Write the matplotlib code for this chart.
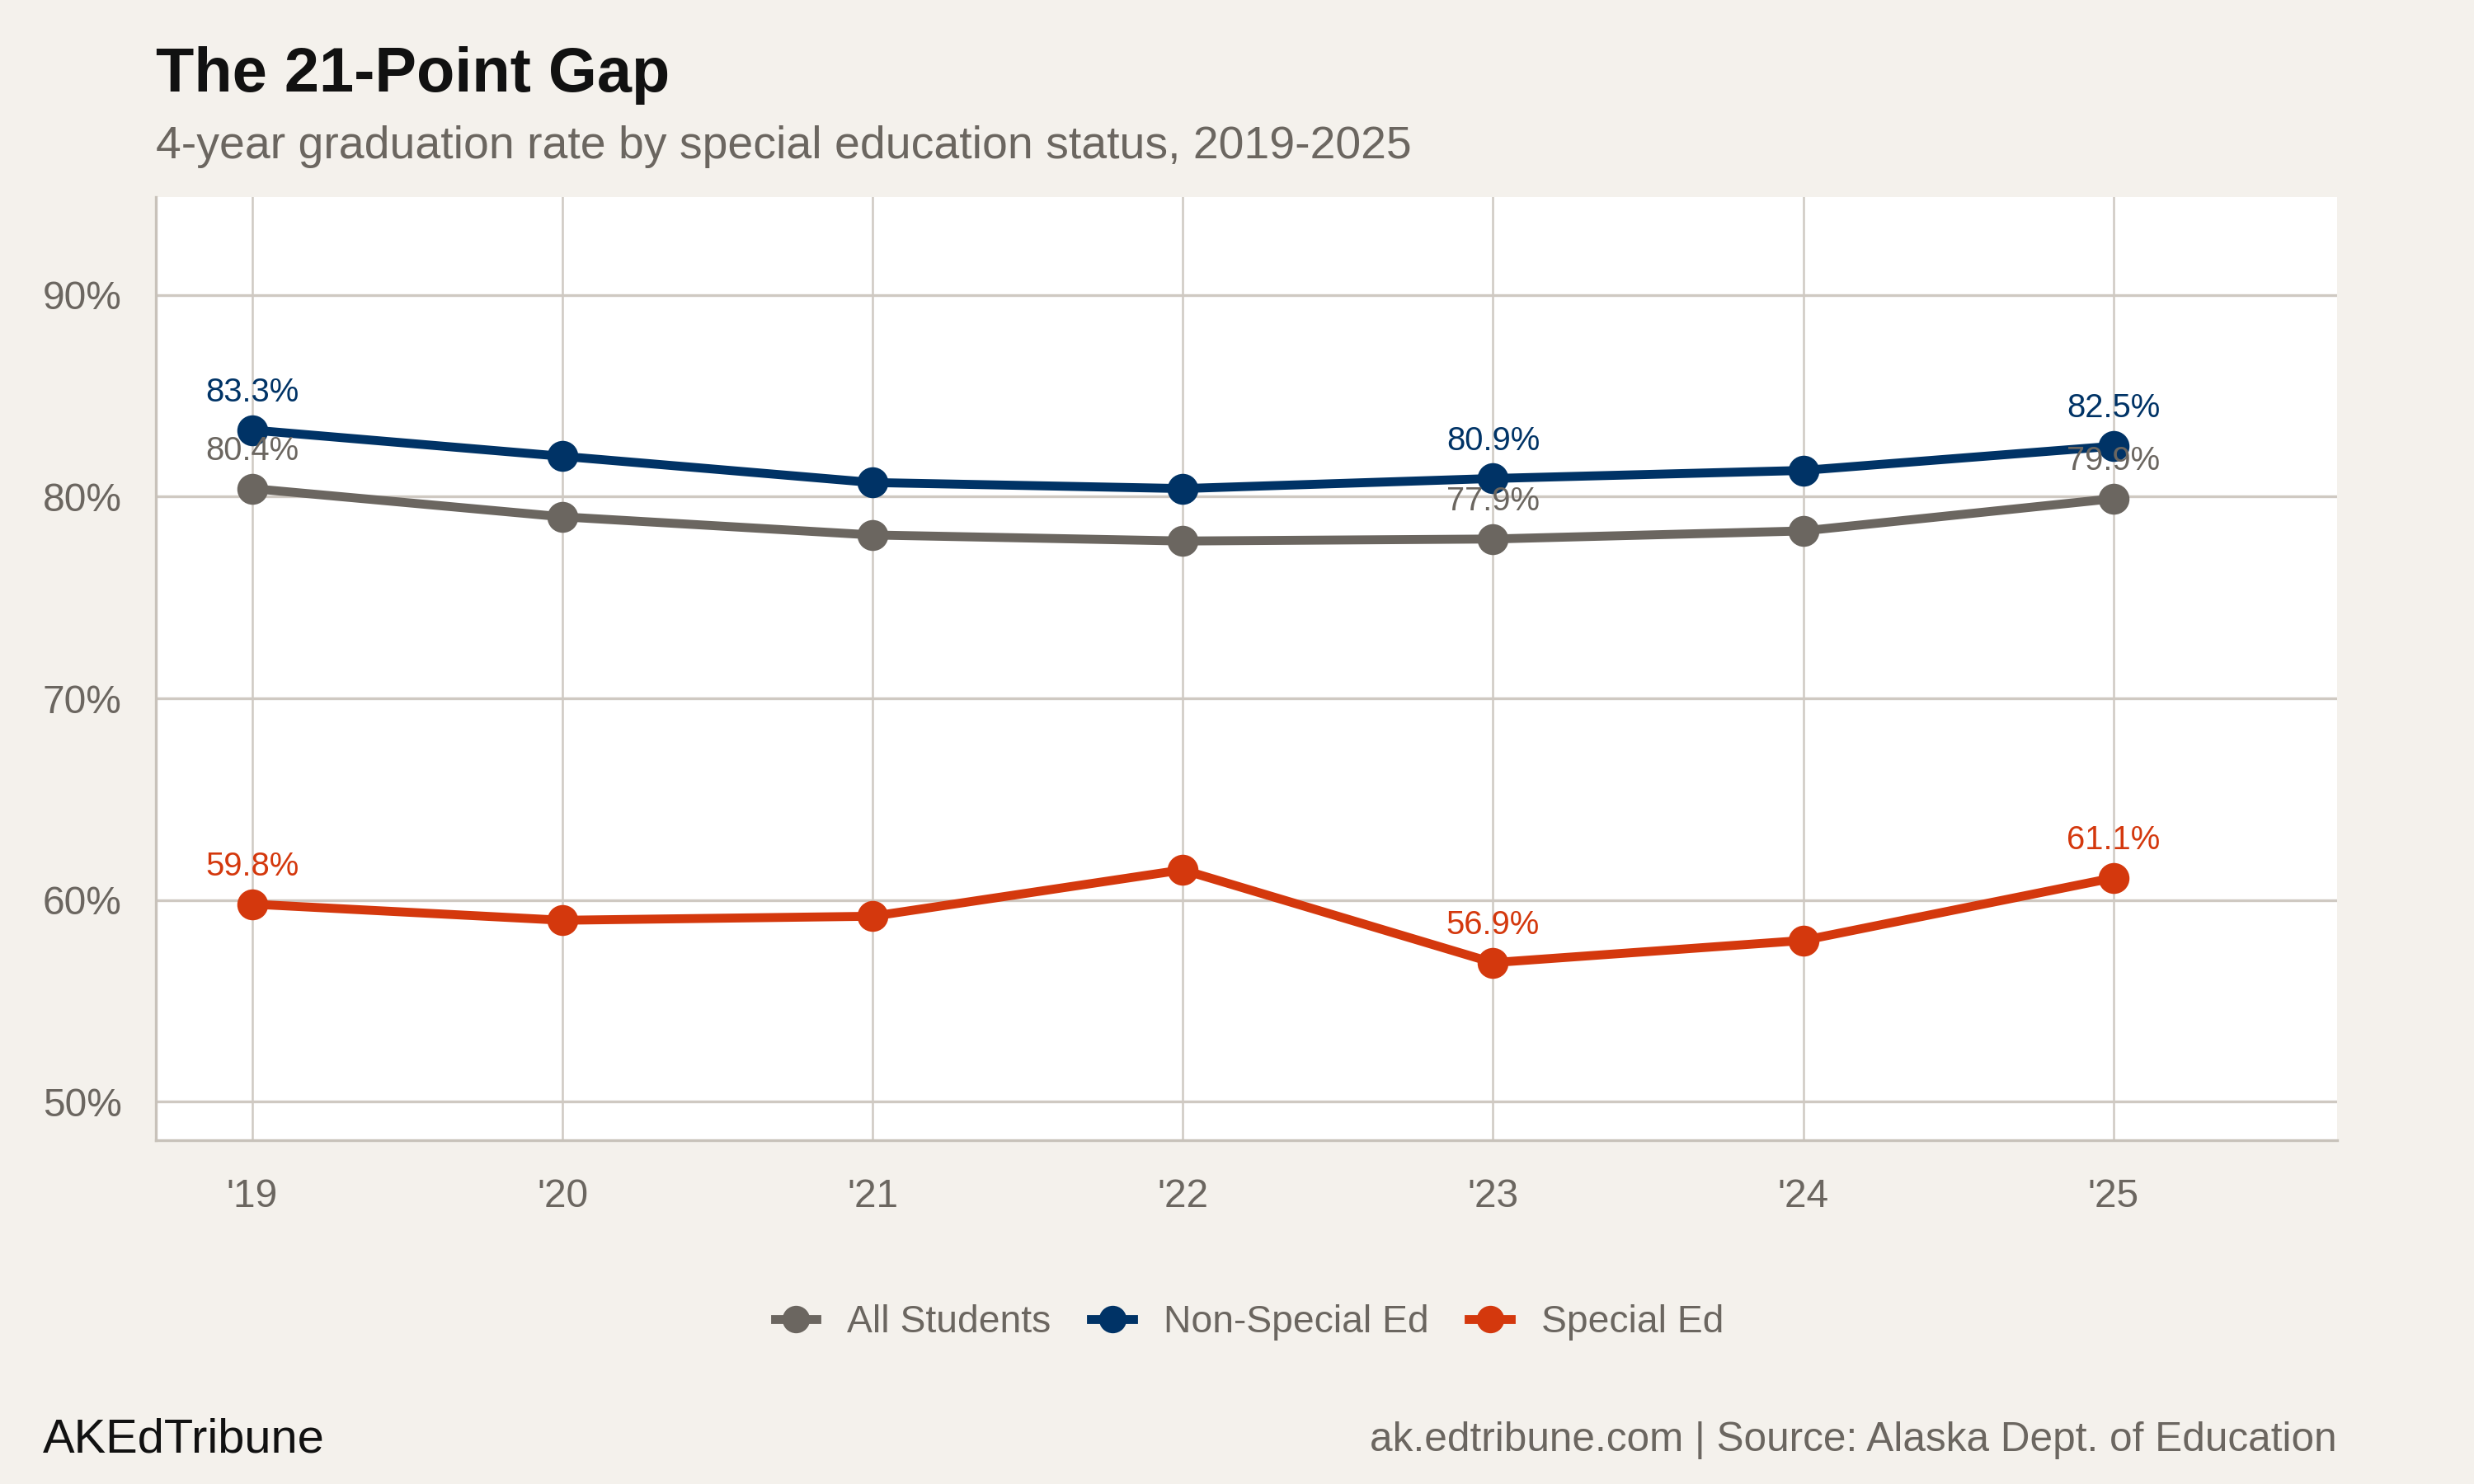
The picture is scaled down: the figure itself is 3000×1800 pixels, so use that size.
import matplotlib
matplotlib.use("Agg")
import matplotlib.pyplot as plt
from matplotlib.lines import Line2D

years = [2019, 2020, 2021, 2022, 2023, 2024, 2025]
year_labels = ["'19", "'20", "'21", "'22", "'23", "'24", "'25"]
all_students = [80.4, 79.0, 78.1, 77.8, 77.9, 78.3, 79.9]
non_sped = [83.3, 82.0, 80.7, 80.4, 80.9, 81.3, 82.5]
sped = [59.8, 59.0, 59.2, 61.5, 56.9, 58.0, 61.1]
series_names = ["All Students", "Non-Special Ed", "Special Ed"]
label_years = [2019, 2023, 2025]
y_ticks = [50, 60, 70, 80, 90]

colors = ["#6b6660", "#003366", "#d4380d"]
bg = "#f4f1ec"
grid_c = "#cfc9c2"
text_gray = "#6b6660"

plt.rcParams["font.family"] = ["Liberation Sans", "DejaVu Sans"]

fig = plt.figure(figsize=(10, 6), dpi=300, facecolor=bg)
ax = fig.add_axes([0.0631, 0.2317, 0.8814, 0.6355])
ax.set_facecolor("white")

series = [all_students, non_sped, sped]
for name, vals, c in zip(series_names, series, colors):
    ax.plot(years, vals, color=c, lw=2.6, marker="o", ms=8, zorder=3,
            solid_capstyle="round")
    for yr, v in zip(years, vals):
        if yr in label_years:
            ax.annotate(f"{v:.1f}%", (yr, v), xytext=(0, 11),
                        textcoords="offset points", ha="center", va="center",
                        fontsize=9.6, color=c, zorder=4)

ax.set_xlim(2018.69, 2025.72)
ax.set_ylim(48.1, 94.85)
ax.set_xticks(years)
ax.set_xticklabels(year_labels)
ax.set_yticks(y_ticks)
ax.set_yticklabels([f"{t}%" for t in y_ticks])
ax.tick_params(axis="both", length=0, labelsize=11.5, colors=text_gray)
ax.tick_params(axis="x", pad=11)
ax.tick_params(axis="y", pad=10)
ax.grid(axis="y", color=grid_c, lw=0.8, zorder=0)
ax.grid(axis="x", color=grid_c, lw=0.6, zorder=0)
for s in ["top", "right"]:
    ax.spines[s].set_visible(False)
for s in ["left", "bottom"]:
    ax.spines[s].set_color("#c8c2ba")
    ax.spines[s].set_linewidth(0.8)

fig.text(0.0631, 0.949, "The 21-Point Gap", fontsize=18.2, fontweight="bold",
         color="#111111", ha="left", va="center")
fig.text(0.0631, 0.901, "4-year graduation rate by special education status, 2019-2025",
         fontsize=13.3, color=text_gray, ha="left", va="center")

handles = [Line2D([0], [0], color=c, lw=2.6, marker="o", ms=7) for c in colors]
leg = fig.legend(handles, series_names, loc="center", bbox_to_anchor=(0.505, 0.109),
                 ncol=3, frameon=False, fontsize=11.1, handlelength=1.1,
                 handletextpad=0.8, columnspacing=1.05)
for t in leg.get_texts():
    t.set_color(text_gray)

fig.text(0.0172, 0.0295, "AKEdTribune", fontsize=13.9, color="#111111",
         ha="left", va="center")
fig.text(0.9445, 0.0295, "ak.edtribune.com | Source: Alaska Dept. of Education",
         fontsize=11.9, color=text_gray, ha="right", va="center")

fig.savefig("out.png", dpi=300, facecolor=bg)
